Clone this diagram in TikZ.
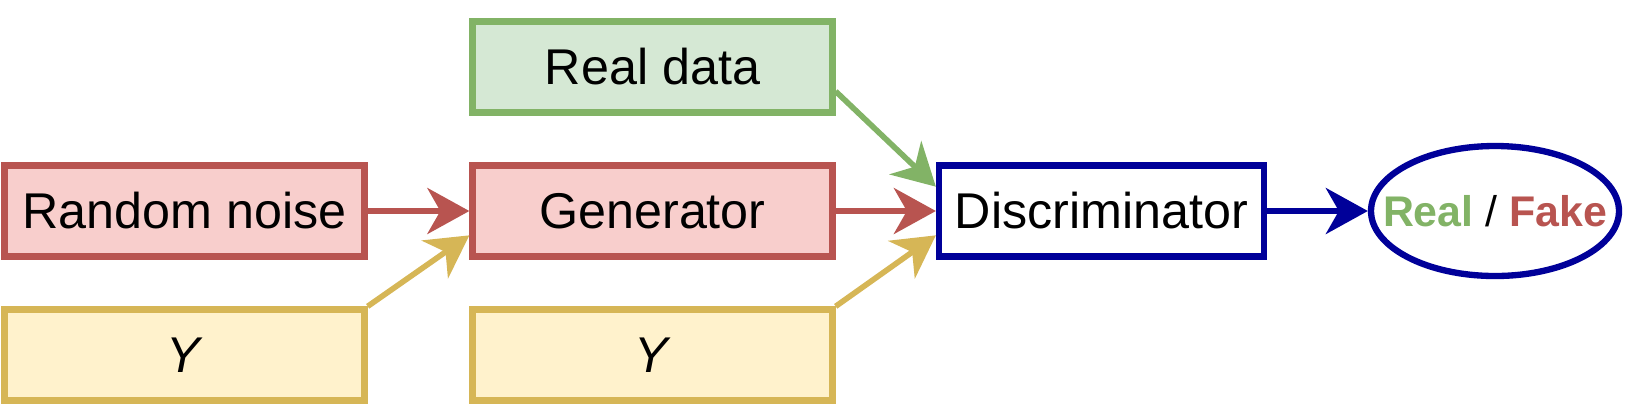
\documentclass[tikz,border=0pt]{standalone}
\usepackage{fontspec}
\setmainfont{Liberation Sans}
\usetikzlibrary{positioning,arrows.meta,calc,shapes.geometric}

\definecolor{redfill}{HTML}{F8CECC}
\definecolor{redline}{HTML}{B85450}
\definecolor{greenfill}{HTML}{D5E8D4}
\definecolor{greenline}{HTML}{82B366}
\definecolor{yellowfill}{HTML}{FFF2CC}
\definecolor{yellowline}{HTML}{D6B656}
\definecolor{blueline}{HTML}{000099}

\begin{document}
\begin{tikzpicture}[auto,
    block/.style={draw, rectangle, line width=1.8pt, minimum width=3.6cm, minimum height=0.91cm,
        inner sep=0pt, font=\fontsize{14.3}{16}\selectfont},
    redbox/.style={block, draw=redline, fill=redfill},
    greenbox/.style={block, draw=greenline, fill=greenfill},
    yellowbox/.style={block, draw=yellowline, fill=yellowfill},
    arrow/.style={line width=1.6pt, -{Stealth[length=4.2mm, width=4.6mm, inset=1.3mm]}}]

    \useasboundingbox (0,0) rectangle (16.34,4.06);

    % Nodes
    \node [redbox] (noise) at (1.845,1.95) {Random noise};
    \node [yellowbox, below of=noise, node distance=1.44cm] (y1) {\textit{Y}};
    \node [redbox, right of=noise, node distance=4.68cm] (gen) {Generator};
    \node [greenbox, above of=gen, node distance=1.44cm] (real) {Real data};
    \node [yellowbox, below of=gen, node distance=1.44cm] (y2) {\textit{Y}};
    \node [block, draw=blueline, minimum width=3.25cm, right of=gen, node distance=4.49cm] (disc) {Discriminator};
    \node [draw=blueline, ellipse, line width=1.8pt, minimum width=2.48cm, minimum height=1.3cm, inner sep=0pt,
        right of=disc, node distance=3.935cm, font=\bfseries\fontsize{12.2}{14}\selectfont] (out)
        {\makebox[0pt]{\textcolor{greenline}{Real} {\mdseries /} \textcolor{redline}{Fake}}};

    % Arrows
    \draw[arrow, redline] (noise) -- (gen);
    \draw[arrow, yellowline] (y1.north east) -- ($(gen.west)!0.5!(gen.south west)$);
    \draw[arrow, greenline] ($(real.east)!0.5!(real.south east)$) -- ($(disc.west)!0.5!(disc.north west)$);
    \draw[arrow, redline] (gen) -- (disc);
    \draw[arrow, yellowline] (y2.north east) -- ($(disc.west)!0.5!(disc.south west)$);
    \draw[arrow, blueline] (disc) -- (out);

\end{tikzpicture}
\end{document}
